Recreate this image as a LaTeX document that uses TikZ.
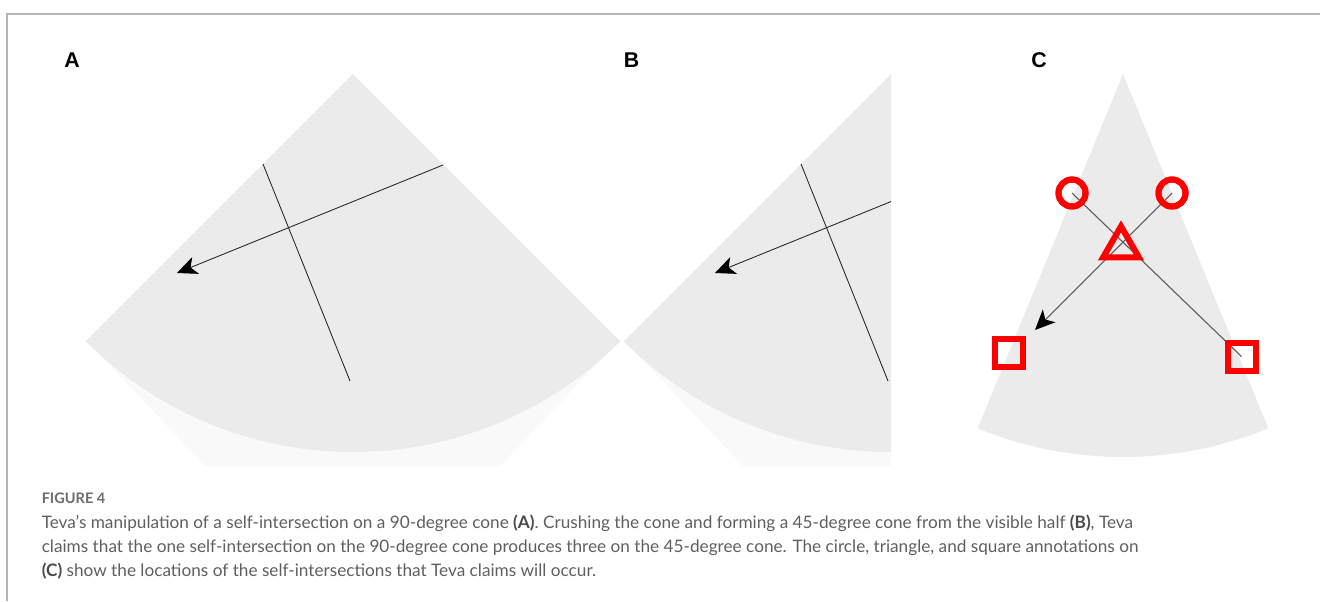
\documentclass[tikz,border=0pt]{standalone}
\usepackage{fontspec}
\newfontfamily\capfont{Lato}
\newfontfamily\lblfont{Liberation Sans}
\usetikzlibrary{arrows.meta,shapes.geometric}
\definecolor{fangray}{HTML}{EBEBEB}
\definecolor{shadowgray}{HTML}{F9F9F9}
\definecolor{framegray}{HTML}{B4B4B4}
\definecolor{captext}{HTML}{5F5F5F}
\definecolor{capbold}{HTML}{4A4A4A}
\definecolor{mkred}{HTML}{FF0000}
\tikzset{
  fan/.style={fill=fangray},
  fanshadow/.style={fill=shadowgray},
  frameline/.style={draw=framegray, line width=1.2pt},
  crossline/.style={draw=black!85, line width=0.65pt},
  conearrow/.style={-{Stealth[length=15pt,width=13.5pt,inset=4pt,color=black]}},
  cline/.style={draw=black!65, line width=0.8pt},
  panellabel/.style={font=\lblfont\bfseries\fontsize{16}{19}\selectfont, inner sep=0pt},
  captionline/.style={font=\capfont\fontsize{12.9}{18}\selectfont, text=captext, anchor=base west, inner sep=0pt},
  ringmark/.style={circle, draw=mkred, line width=4.5pt, minimum size=20.25pt, inner sep=0pt},
  boxmark/.style={rectangle, draw=mkred, line width=4.5pt, minimum size=21pt, inner sep=0pt},
  trimark/.style={regular polygon, regular polygon sides=3, draw=mkred, line width=4.5pt, minimum size=31pt, inner sep=0pt},
}
\newcommand{\bp}[1]{{\bfseries\color{capbold}#1}}
\begin{document}
\begin{tikzpicture}[x=0.75pt, y=-0.75pt]
\useasboundingbox (0,0) rectangle (1320,601);

% frame
\coordinate (frTR) at (1320,14);
\coordinate (frTL) at (7,14);
\coordinate (frBL) at (7,601);
\draw[frameline] (frTR) -- (frTL) -- (frBL);

% shadows
\fill[fanshadow] (87,341) -- (205,466) -- (500,466) -- (619,341) -- cycle;
\begin{scope}[xshift=403.5pt]
  \clip (-100,0) rectangle (353,601);
  \fill[fanshadow] (87,341) -- (205,466) -- (500,466) -- (619,341) -- cycle;
\end{scope}

% Panel A
\coordinate (Aapex) at (353,74);
\fill[fan] (Aapex) -- ++(135:378) arc[start angle=135, end angle=45, radius=378] -- cycle;
\coordinate (A1s) at (263,164);
\coordinate (A1e) at (350,381);
\coordinate (A2s) at (443,165);
\coordinate (A2e) at (177,273);
\draw[crossline] (A1s) -- (A1e);
\draw[crossline, conearrow] (A2s) -- (A2e);

% Panel B (left half of the same cone)
\begin{scope}[xshift=403.5pt]
  \clip (-100,0) rectangle (353,601);
  \coordinate (Bapex) at (353,74);
  \fill[fan] (Bapex) -- ++(135:378) arc[start angle=135, end angle=45, radius=378] -- cycle;
  \coordinate (B1s) at (263,164);
  \coordinate (B1e) at (350,381);
  \coordinate (B2s) at (443,165);
  \coordinate (B2e) at (177,273);
  \draw[crossline] (B1s) -- (B1e);
  \draw[crossline, conearrow] (B2s) -- (B2e);
\end{scope}

% Panel C
\coordinate (Capex) at (1123,74);
\fill[fan] (Capex) -- ++(112.3:383) arc[start angle=112.3, end angle=67.7, radius=383] -- cycle;
\node[ringmark] (cl) at (1072,193) {};
\node[ringmark] (cr) at (1172,193) {};
\node[boxmark] (sl) at (1009,353) {};
\node[boxmark] (sr) at (1241.5,356.5) {};
\coordinate (Ctip) at (1035,330);
\draw[cline] (cl.center) -- (sr.center);
\draw[cline, conearrow] (cr.center) -- (Ctip);
\node[trimark] (tri) at (1121,247) {};
\node[ringmark] at (cl) {};
\node[ringmark] at (cr) {};
\node[boxmark] at (sl) {};
\node[boxmark] at (sr) {};

% panel labels
\node[panellabel] (labA) at (72,60) {A};
\node[panellabel] (labB) at (631.5,60) {B};
\node[panellabel] (labC) at (1039,60) {C};

% caption
\node[captionline, font=\capfont\bfseries\fontsize{10.9}{12}\selectfont, text=black!58] (figno) at (41.5,503) {FIGURE 4};
\node[captionline] (cap1) at (41.5,528) {Teva’s manipulation of a self-intersection on a 90-degree cone \bp{(A)}. Crushing the cone and forming a 45-degree cone from the visible half \bp{(B)}, Teva};
\node[captionline] (cap2) at (41.5,552) {claims that the one self-intersection on the 90-degree cone produces three on the 45-degree cone. The circle, triangle, and square annotations on};
\node[captionline] (cap3) at (41.5,576) {\bp{(C)} show the locations of the self-intersections that Teva claims will occur.};
\end{tikzpicture}
\end{document}
